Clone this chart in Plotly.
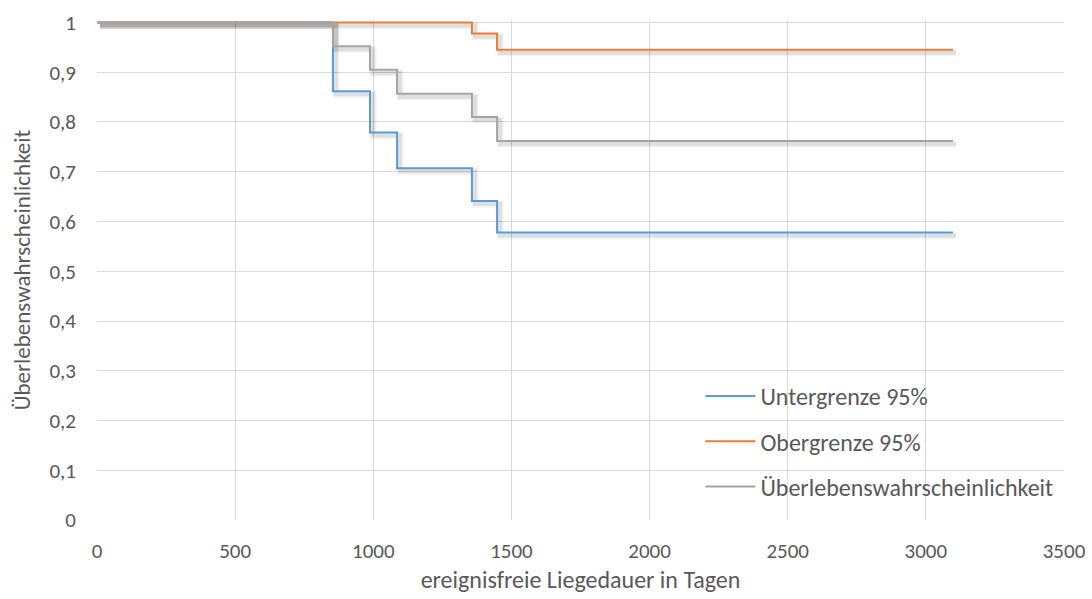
import plotly.graph_objects as go

# Kaplan-Meier estimate with 95% confidence limits
tage = [0, 854, 988, 1086, 1357, 1448, 3098]
ueberleben = [1.0, 0.952, 0.905, 0.857, 0.810, 0.762, 0.762]
untergrenze = [1.0, 0.862, 0.779, 0.707, 0.641, 0.578, 0.578]
obergrenze = [1.0, 1.0, 1.0, 1.0, 0.978, 0.945, 0.945]

x_ticks = [0, 500, 1000, 1500, 2000, 2500, 3000, 3500]
y_ticks = [0, 0.1, 0.2, 0.3, 0.4, 0.5, 0.6, 0.7, 0.8, 0.9, 1.0]

W, H = 1092, 599
M = dict(l=97, r=28, t=20, b=79)
X_RANGE = [0, 3500]
# a little headroom above 1 so lines on the top edge are not clipped
Y_RANGE = [0, 1.005]

# pixel -> data conversions for the soft drop shadow under each line
px_x = (X_RANGE[1] - X_RANGE[0]) / (W - M["l"] - M["r"])
px_y = (Y_RANGE[1] - Y_RANGE[0]) / (H - M["t"] - M["b"])

FONT = "Carlito, Lato, 'Liberation Sans', sans-serif"
TEXT = "#595959"

series = [
    ("Untergrenze 95%", untergrenze, "#5B9BD5"),
    ("Obergrenze 95%", obergrenze, "#ED7D31"),
    ("Überlebenswahrscheinlichkeit", ueberleben, "#A5A5A5"),
]

fig = go.Figure()

# shadows first so the coloured lines sit on top
for _, ys, _ in series:
    for width, alpha, off in [(7, 0.05, 3), (4, 0.08, 3)]:
        fig.add_trace(go.Scatter(
            x=[t + off * px_x for t in tage],
            y=[v - off * px_y for v in ys],
            mode="lines", line=dict(shape="hv", width=width, color=f"rgba(0,0,0,{alpha})"),
            showlegend=False, hoverinfo="skip",
        ))

for i, (name, ys, color) in enumerate(series):
    fig.add_trace(go.Scatter(
        x=tage, y=ys, name=name, mode="lines",
        line=dict(shape="hv", width=2, color=color),
        legendgroup=f"g{i}",
    ))


def y_label(v):
    if v in (0, 1):
        return str(int(v))
    return f"{v:.1f}".replace(".", ",")


fig.update_layout(
    width=W, height=H,
    margin=M,
    paper_bgcolor="white", plot_bgcolor="white",
    font=dict(family=FONT, size=21, color=TEXT),
    xaxis=dict(
        range=X_RANGE, tickvals=x_ticks, ticktext=[str(v) for v in x_ticks],
        showgrid=True, gridcolor="#D9D9D9", gridwidth=1.3,
        zeroline=False, showline=False, ticks="", automargin=False,
        tickfont=dict(size=21, color=TEXT), ticklabelstandoff=16,
        title=dict(text="ereignisfreie Liegedauer in Tagen", font=dict(size=24, color=TEXT), standoff=8),
    ),
    yaxis=dict(
        range=Y_RANGE, tickvals=y_ticks, ticktext=[y_label(v) for v in y_ticks],
        showgrid=True, gridcolor="#D9D9D9", gridwidth=1.3,
        zeroline=False, showline=False, ticks="", automargin=False,
        tickfont=dict(size=21, color=TEXT), ticklabelstandoff=20,
        title=dict(text="Überlebenswahrscheinlichkeit", font=dict(size=23, color=TEXT), standoff=12),
    ),
    legend=dict(
        x=0.624, y=0.292, xanchor="left", yanchor="top",
        bgcolor="rgba(0,0,0,0)", borderwidth=0,
        font=dict(size=24, color=TEXT),
        itemwidth=50, tracegroupgap=11, traceorder="grouped",
    ),
)

fig.write_html("out.html")
